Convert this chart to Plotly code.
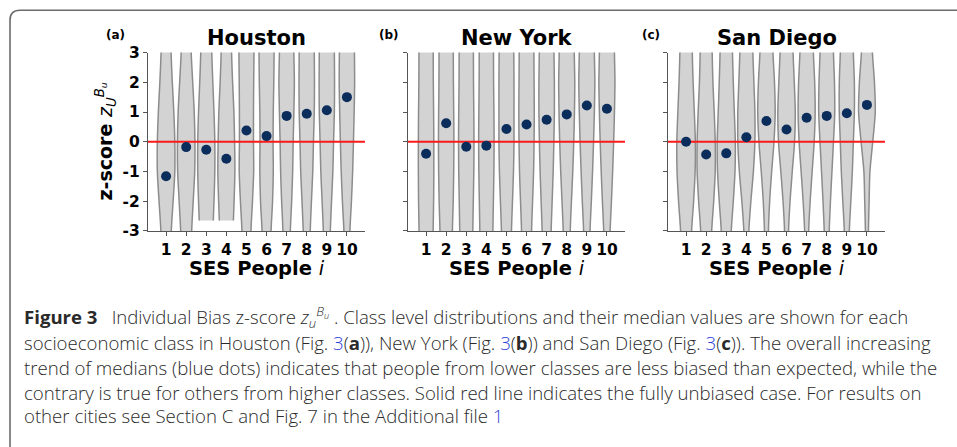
import plotly.graph_objects as go

# ---------------------------------------------------------------- data
CLASSES = list(range(1, 11))
TICK_LABELS = [str(c) for c in CLASSES]
Y_TICKS = [-3, -2, -1, 0, 1, 2, 3]
X_RANGE = [0.1, 10.9]
Y_RANGE = [-3, 3]

CITIES = ["Houston", "New York", "San Diego"]
PANEL_TAGS = ["(a)", "(b)", "(c)"]

# medians of the individual-bias z-score per SES class
HOUSTON_MEDIAN = [-1.16, -0.18, -0.27, -0.57, 0.38, 0.19, 0.87, 0.94, 1.06, 1.50]
NEWYORK_MEDIAN = [-0.40, 0.62, -0.17, -0.13, 0.43, 0.58, 0.74, 0.92, 1.22, 1.11]
SANDIEGO_MEDIAN = [0.00, -0.43, -0.39, 0.15, 0.70, 0.41, 0.81, 0.87, 0.96, 1.24]

# violin body widths (x units) sampled at the z-score levels below
LEVELS = [-3, -2, -1, 0, 1, 2, 3]
HOUSTON_WIDTH = [
    [0.52, 0.70, 0.87, 0.87, 0.77, 0.62, 0.50],
    [0.55, 0.70, 0.85, 0.87, 0.80, 0.65, 0.50],
    [0.70, 0.77, 0.85, 0.85, 0.77, 0.65, 0.55],
    [0.70, 0.77, 0.85, 0.82, 0.75, 0.62, 0.52],
    [0.45, 0.60, 0.72, 0.70, 0.70, 0.72, 0.75],
    [0.45, 0.60, 0.67, 0.65, 0.67, 0.72, 0.75],
    [0.37, 0.50, 0.60, 0.65, 0.72, 0.77, 0.72],
    [0.35, 0.47, 0.60, 0.67, 0.75, 0.77, 0.75],
    [0.35, 0.47, 0.60, 0.67, 0.75, 0.77, 0.75],
    [0.30, 0.45, 0.57, 0.65, 0.72, 0.77, 0.75],
]
NEWYORK_WIDTH = [
    [0.70, 0.75, 0.77, 0.77, 0.75, 0.72, 0.71],
    [0.62, 0.70, 0.75, 0.77, 0.75, 0.72, 0.71],
    [0.65, 0.70, 0.75, 0.77, 0.75, 0.72, 0.71],
    [0.65, 0.70, 0.75, 0.77, 0.75, 0.72, 0.71],
    [0.50, 0.60, 0.70, 0.75, 0.75, 0.75, 0.73],
    [0.50, 0.60, 0.70, 0.75, 0.77, 0.75, 0.73],
    [0.45, 0.55, 0.65, 0.72, 0.77, 0.77, 0.73],
    [0.35, 0.47, 0.60, 0.70, 0.77, 0.80, 0.75],
    [0.32, 0.45, 0.57, 0.67, 0.75, 0.80, 0.75],
    [0.32, 0.45, 0.57, 0.67, 0.75, 0.80, 0.75],
]
SANDIEGO_WIDTH = [
    [0.55, 0.75, 0.90, 0.92, 0.82, 0.70, 0.62],
    [0.55, 0.75, 0.90, 0.90, 0.80, 0.67, 0.60],
    [0.50, 0.70, 0.87, 0.90, 0.80, 0.70, 0.62],
    [0.25, 0.45, 0.70, 0.85, 0.85, 0.75, 0.65],
    [0.20, 0.32, 0.52, 0.75, 0.87, 0.80, 0.65],
    [0.20, 0.35, 0.57, 0.80, 0.87, 0.77, 0.65],
    [0.20, 0.35, 0.55, 0.75, 0.85, 0.80, 0.67],
    [0.25, 0.37, 0.52, 0.67, 0.80, 0.77, 0.67],
    [0.25, 0.40, 0.55, 0.65, 0.75, 0.75, 0.65],
    [0.15, 0.22, 0.30, 0.58, 0.83, 0.75, 0.55],
]
# lowest observed value when a class distribution ends inside the view
HOUSTON_MIN = [None, None, -2.65, -2.65, None, None, None, None, None, None]
NEWYORK_MIN = [None] * 10
SANDIEGO_MIN = [None] * 10

MEDIANS = [HOUSTON_MEDIAN, NEWYORK_MEDIAN, SANDIEGO_MEDIAN]
WIDTHS = [HOUSTON_WIDTH, NEWYORK_WIDTH, SANDIEGO_WIDTH]
MINIMA = [HOUSTON_MIN, NEWYORK_MIN, SANDIEGO_MIN]

# ---------------------------------------------------------------- layout helpers
W, H = 957, 447
ROW_SCALE, ROW_OFFSET = 0.9654, 7.7   # page rows vs. figure rows


def fx(p):
    return p / W


def fy(p):
    return 1 - ((p - ROW_OFFSET) / ROW_SCALE) / H


PANEL_LEFT = [148, 408, 668]
PANEL_W = 217
PLOT_TOP, PLOT_BOTTOM = 51.5, 231

VIOLIN_FILL = "#d3d3d3"
VIOLIN_EDGE = "#8c8c8c"
DOT = "#0b2d5c"
AXIS = "#555555"
PLOT_FONT = "DejaVu Sans"

fig = go.Figure()


def violin_outline(pos, widths, lowest):
    levels = list(LEVELS)
    ws = list(widths)
    if lowest is None:
        levels = [-3.6] + levels
        ws = [ws[0]] + ws
    else:
        levels[0] = lowest
    levels = levels + [3.6]
    ws = ws + [ws[-1]]
    right = [pos + w / 2 for w in ws]
    left = [pos - w / 2 for w in ws]
    xs = right + left[::-1]
    ys = levels + levels[::-1]
    return xs, ys


for k in range(3):
    xa = "x" if k == 0 else f"x{k + 1}"
    ya = "y" if k == 0 else f"y{k + 1}"
    for i, c in enumerate(CLASSES):
        xs, ys = violin_outline(c, WIDTHS[k][i], MINIMA[k][i])
        fig.add_trace(go.Scatter(
            x=xs, y=ys, xaxis=xa, yaxis=ya, mode="lines",
            line=dict(color=VIOLIN_EDGE, width=1.5, shape="spline", smoothing=0.8),
            fill="toself", fillcolor=VIOLIN_FILL, hoverinfo="skip", showlegend=False,
        ))
    # unbiased reference line
    fig.add_trace(go.Scatter(
        x=X_RANGE, y=[0, 0], xaxis=xa, yaxis=ya, mode="lines",
        line=dict(color="#ff1a1a", width=2), showlegend=False, hoverinfo="skip",
    ))
    fig.add_trace(go.Scatter(
        x=CLASSES, y=MEDIANS[k], xaxis=xa, yaxis=ya, mode="markers",
        marker=dict(color=DOT, size=10), showlegend=False,
    ))

axis_common = dict(
    showgrid=False, zeroline=False, showline=True, linecolor=AXIS, linewidth=1.4,
    ticks="outside", ticklen=4, tickwidth=1.2, tickcolor=AXIS,
)
layout = {}
for k in range(3):
    sx = "xaxis" if k == 0 else f"xaxis{k + 1}"
    sy = "yaxis" if k == 0 else f"yaxis{k + 1}"
    yref = "y" if k == 0 else f"y{k + 1}"
    xref = "x" if k == 0 else f"x{k + 1}"
    layout[sx] = dict(
        axis_common, domain=[fx(PANEL_LEFT[k]), fx(PANEL_LEFT[k] + PANEL_W)],
        range=X_RANGE, tickvals=CLASSES, ticktext=TICK_LABELS, anchor=yref,
        tickfont=dict(family=PLOT_FONT, size=15.5, color="black", weight="bold"),
    )
    layout[sy] = dict(
        axis_common, domain=[fy(PLOT_BOTTOM), fy(PLOT_TOP)], range=Y_RANGE,
        tickvals=Y_TICKS, ticktext=[str(t) for t in Y_TICKS], anchor=xref,
        showticklabels=(k == 0),
        tickfont=dict(family=PLOT_FONT, size=15.5, color="black", weight="bold"),
    )

annotations = []
for k in range(3):
    cx = fx(PANEL_LEFT[k] + PANEL_W / 2)
    annotations.append(dict(
        text=CITIES[k], x=cx, y=fy(37), xref="paper", yref="paper",
        showarrow=False, xanchor="center", yanchor="middle",
        font=dict(family=PLOT_FONT, size=21, color="black", weight="bold"),
    ))
    annotations.append(dict(
        text="<b>SES People </b><i>i</i>", x=cx, y=fy(269), xref="paper", yref="paper",
        showarrow=False, xanchor="center", yanchor="middle",
        font=dict(family=PLOT_FONT, size=19.5, color="black"),
    ))
for tag, px in zip(PANEL_TAGS, [115, 389, 651]):
    annotations.append(dict(
        text=tag, x=fx(px), y=fy(34), xref="paper", yref="paper",
        showarrow=False, xanchor="center", yanchor="middle",
        font=dict(family=PLOT_FONT, size=12, color="black", weight="bold"),
    ))
annotations.append(dict(
    text="<b>z-score </b><i>z</i><sub><i>U</i></sub><sup><i>B<sub>u</sub></i></sup>",
    x=fx(106), y=fy(141), xref="paper", yref="paper", textangle=-90,
    showarrow=False, xanchor="center", yanchor="middle",
    font=dict(family=PLOT_FONT, size=19, color="black"),
))

# caption
LINK = "#2f3fd8"
CAPTION = [
    "<b>Figure 3</b>\u2002 Individual Bias z-score <i>z</i><sub><i>u</i></sub><sup><i>B<sub>u</sub></i></sup> . "
    "Class level distributions and their median values are shown for each",
    f"socioeconomic class in Houston (Fig. <span style='color:{LINK}'>3</span>(<b>a</b>)), "
    f"New York (Fig. <span style='color:{LINK}'>3</span>(<b>b</b>)) and San Diego "
    f"(Fig. <span style='color:{LINK}'>3</span>(<b>c</b>)). The overall increasing",
    "trend of medians (blue dots) indicates that people from lower classes are less biased than expected, while the",
    "contrary is true for others from higher classes. Solid red line indicates the fully unbiased case. For results on",
    f"other cities see Section C and Fig. 7 in the Additional file <span style='color:{LINK}'>1</span>",
]
CAPTION_Y = [318, 343, 368, 393, 417]
for line, py in zip(CAPTION, CAPTION_Y):
    annotations.append(dict(
        text=line, x=fx(22), y=fy(py), xref="paper", yref="paper",
        showarrow=False, xanchor="left", yanchor="middle",
        font=dict(family="Open Sans", size=18.6, color="#2a2a2a", weight=300),
    ))

# rounded frame around the figure (top and left edges)
frame = dict(
    type="path", xref="paper", yref="paper",
    path=f"M {fx(10)},{fy(460)} L {fx(10)},{fy(19)} Q {fx(10)},{fy(9)} {fx(20)},{fy(9)} L 1,{fy(9)}",
    line=dict(color="#6b6b6b", width=1.6),
)

fig.update_layout(
    width=W, height=H, margin=dict(l=0, r=0, t=0, b=0),
    paper_bgcolor="white", plot_bgcolor="white",
    annotations=annotations, shapes=[frame], showlegend=False,
    **layout,
)
fig.write_html("out.html")
